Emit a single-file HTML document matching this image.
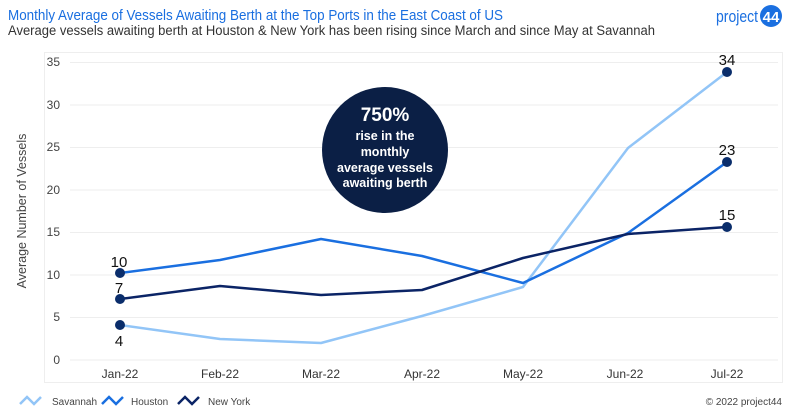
<!DOCTYPE html>
<html><head><meta charset="utf-8"><style>
body{margin:0;width:800px;height:415px;background:#fff;overflow:hidden;font-family:"Liberation Sans",sans-serif}
</style></head><body>
<svg width="800" height="415" xmlns="http://www.w3.org/2000/svg" font-family="Liberation Sans, sans-serif">
<text x="8" y="20" font-size="14.5" fill="#1a6fe0" textLength="495" lengthAdjust="spacingAndGlyphs">Monthly Average of Vessels Awaiting Berth at the Top Ports in the East Coast of US</text>
<text x="8" y="35" font-size="13.5" fill="#333" textLength="647" lengthAdjust="spacingAndGlyphs">Average vessels awaiting berth at Houston &amp; New York has been rising since March and since May at Savannah</text>
<text x="716" y="22" font-size="17" fill="#1a6fe0" textLength="42" lengthAdjust="spacingAndGlyphs">project</text>
<circle cx="771" cy="16" r="11" fill="#1a6fe0"/>
<text x="771" y="22" font-size="15" font-weight="bold" fill="#fff" text-anchor="middle">44</text>
<rect x="44.5" y="52.5" width="738" height="330" fill="none" stroke="#eee"/>
<g stroke="#eee" stroke-width="1">
<line x1="70" x2="778" y1="62.5" y2="62.5"/><line x1="70" x2="778" y1="105" y2="105"/><line x1="70" x2="778" y1="147.5" y2="147.5"/><line x1="70" x2="778" y1="190" y2="190"/><line x1="70" x2="778" y1="232.5" y2="232.5"/><line x1="70" x2="778" y1="275" y2="275"/><line x1="70" x2="778" y1="317.5" y2="317.5"/><line x1="70" x2="778" y1="360" y2="360"/>
</g>
<g font-size="12" fill="#444" text-anchor="end">
<text x="60" y="66">35</text><text x="60" y="109">30</text><text x="60" y="151">25</text><text x="60" y="194">20</text><text x="60" y="236">15</text><text x="60" y="279">10</text><text x="60" y="321">5</text><text x="60" y="364">0</text>
</g>
<text transform="translate(26,211) rotate(-90)" font-size="12.5" fill="#444" text-anchor="middle">Average Number of Vessels</text>
<g font-size="12" fill="#333" text-anchor="middle">
<text x="120" y="378">Jan-22</text><text x="220" y="378">Feb-22</text><text x="321" y="378">Mar-22</text><text x="422" y="378">Apr-22</text><text x="523" y="378">May-22</text><text x="625" y="378">Jun-22</text><text x="727" y="378">Jul-22</text>
</g>
<g fill="none" stroke-width="2.5" stroke-linejoin="round">
<polyline stroke="#92c5f7" points="120,325 220,339 321,343 422,316 523,287 628,148 727,72"/>
<polyline stroke="#1a6fe0" points="120,273 220,260 321,239 422,256 523,283 628,233 727,162"/>
<polyline stroke="#0b2466" points="120,299 220,286 321,295 422,290 523,258 628,234 727,227"/>
</g>
<g fill="#0a2d6b">
<circle cx="120" cy="325" r="5"/><circle cx="120" cy="273" r="5"/><circle cx="120" cy="299" r="5"/>
<circle cx="727" cy="72" r="5"/><circle cx="727" cy="162" r="5"/><circle cx="727" cy="227" r="5"/>
</g>
<g font-size="15" fill="#111" text-anchor="middle">
<text x="119" y="267">10</text><text x="119" y="293">7</text><text x="119" y="346">4</text>
<text x="727" y="65">34</text><text x="727" y="155">23</text><text x="727" y="220">15</text>
</g>
<circle cx="385" cy="150" r="63" fill="#0b1f45"/>
<g fill="#fff" font-weight="bold" text-anchor="middle">
<text x="385" y="121" font-size="19">750%</text>
<text x="385" y="140" font-size="12.5">rise in the</text>
<text x="385" y="156" font-size="12.5">monthly</text>
<text x="385" y="172" font-size="12.5">average vessels</text>
<text x="385" y="187" font-size="12.5">awaiting berth</text>
</g>
<g fill="none" stroke-width="2.5">
<polyline stroke="#92c5f7" points="20,404 27,397 34,404 41,397"/>
<polyline stroke="#1a6fe0" points="102,404 109,397 116,404 123,397"/>
<polyline stroke="#0b2466" points="178,404 185,397 192,404 199,397"/>
</g>
<g font-size="10" fill="#444">
<text x="52" y="405">Savannah</text><text x="131" y="405">Houston</text><text x="208" y="405">New York</text>
<text x="782" y="405" text-anchor="end">© 2022 project44</text>
</g>
</svg>
</body></html>
